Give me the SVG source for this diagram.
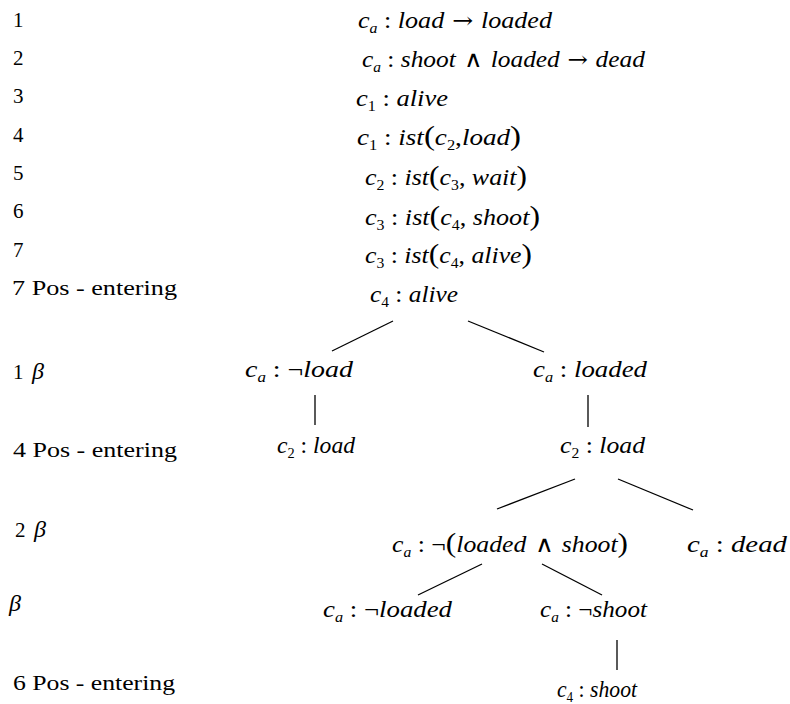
<svg xmlns="http://www.w3.org/2000/svg" width="790" height="704" viewBox="0 0 790 704">
<style>
.lab{font-family:'Liberation Serif','Times New Roman',serif;font-size:21px;fill:#000}
.m{font-family:'Liberation Serif','Times New Roman',serif;font-size:23px;font-style:italic;fill:#000}
.u{font-style:normal}
.sb{font-size:14px}
.sbu{font-size:14px;font-style:normal}
.par{font-size:28px;font-style:normal}
.op{font-family:'DejaVu Sans',sans-serif;font-size:23px;font-style:normal;font-weight:200}
.ar{font-family:'DejaVu Serif',serif;font-size:22px;font-style:normal}
.it{font-style:italic}
.beta{font-style:italic;font-size:24px}
.edge{stroke:#000;stroke-width:1.3;fill:none}
</style>
<rect width="790" height="704" fill="#fff"/>
<g id="labels">
<text class="lab" x="13" y="27">1</text>
<text class="lab" x="13" y="65">2</text>
<text class="lab" x="13" y="103">3</text>
<text class="lab" x="13" y="142">4</text>
<text class="lab" x="13" y="180">5</text>
<text class="lab" x="13" y="218">6</text>
<text class="lab" x="13" y="257">7</text>
<text class="lab" x="12" y="295" textLength="165" lengthAdjust="spacingAndGlyphs">7 Pos - entering</text>
<text class="lab" x="13" y="379">1<tspan class="beta" x="32">β</tspan></text>
<text class="lab" x="13" y="457" textLength="164" lengthAdjust="spacingAndGlyphs">4 Pos - entering</text>
<text class="lab" x="15" y="537">2<tspan class="beta" x="34">β</tspan></text>
<text class="lab beta" x="9" y="611">β</text>
<text class="lab" x="13" y="690" textLength="162" lengthAdjust="spacingAndGlyphs">6 Pos - entering</text>
</g>
<g id="premises">
<text id="p1" class="m" x="358" y="28" textLength="194" lengthAdjust="spacingAndGlyphs">c<tspan class="sb" dy="5">a</tspan><tspan class="u" dy="-5"> : </tspan>load<tspan class="ar"> → </tspan>loaded</text>
<text id="p2" class="m" x="362" y="67" textLength="283" lengthAdjust="spacingAndGlyphs">c<tspan class="sb" dy="5">a</tspan><tspan class="u" dy="-5"> : </tspan>shoot<tspan class="op"> ∧ </tspan>loaded<tspan class="ar"> → </tspan>dead</text>
<text id="p3" class="m" x="356" y="106" textLength="92" lengthAdjust="spacingAndGlyphs">c<tspan class="sbu" dy="5">1</tspan><tspan class="u" dy="-5"> : </tspan>alive</text>
<text id="p4" class="m" x="357" y="145" textLength="164" lengthAdjust="spacingAndGlyphs">c<tspan class="sbu" dy="5">1</tspan><tspan class="u" dy="-5"> : </tspan>ist<tspan class="par">(</tspan>c<tspan class="sbu" dy="5">2</tspan><tspan class="u" dy="-5">,</tspan>load<tspan class="par">)</tspan></text>
<text id="p5" class="m" x="365" y="185" textLength="162" lengthAdjust="spacingAndGlyphs">c<tspan class="sbu" dy="5">2</tspan><tspan class="u" dy="-5"> : </tspan>ist<tspan class="par">(</tspan>c<tspan class="sbu" dy="5">3</tspan><tspan class="u" dy="-5">, </tspan>wait<tspan class="par">)</tspan></text>
<text id="p6" class="m" x="365" y="225" textLength="175" lengthAdjust="spacingAndGlyphs">c<tspan class="sbu" dy="5">3</tspan><tspan class="u" dy="-5"> : </tspan>ist<tspan class="par">(</tspan>c<tspan class="sbu" dy="5">4</tspan><tspan class="u" dy="-5">, </tspan>shoot<tspan class="par">)</tspan></text>
<text id="p7" class="m" x="365" y="263" textLength="167" lengthAdjust="spacingAndGlyphs">c<tspan class="sbu" dy="5">3</tspan><tspan class="u" dy="-5"> : </tspan>ist<tspan class="par">(</tspan>c<tspan class="sbu" dy="5">4</tspan><tspan class="u" dy="-5">, </tspan>alive<tspan class="par">)</tspan></text>
</g>
<g id="connectors">
<line class="edge" x1="393" y1="321" x2="332" y2="351"/>
<line class="edge" x1="468" y1="321" x2="544" y2="352"/>
<line class="edge" x1="315" y1="395" x2="315" y2="425"/>
<line class="edge" x1="588" y1="395" x2="588" y2="427"/>
<line class="edge" x1="575" y1="479" x2="497" y2="509"/>
<line class="edge" x1="618" y1="479" x2="693" y2="510"/>
<line class="edge" x1="482" y1="564" x2="418" y2="595"/>
<line class="edge" x1="542" y1="564" x2="602" y2="595"/>
<line class="edge" x1="617" y1="640" x2="617" y2="670"/>
</g>
<g id="n-c4-alive"><text class="m" x="370" y="302" textLength="88" lengthAdjust="spacingAndGlyphs">c<tspan class="sbu" dy="5">4</tspan><tspan class="u" dy="-5"> : </tspan>alive</text></g>
<g id="n-not-load"><text class="m" x="245" y="377" textLength="108" lengthAdjust="spacingAndGlyphs">c<tspan class="sb" dy="5">a</tspan><tspan class="u" dy="-5"> : ¬</tspan>load</text></g>
<g id="n-loaded"><text class="m" x="533" y="377" textLength="114" lengthAdjust="spacingAndGlyphs">c<tspan class="sb" dy="5">a</tspan><tspan class="u" dy="-5"> : </tspan>loaded</text></g>
<g id="n-c2-load-left"><text class="m" x="277" y="453" textLength="78" lengthAdjust="spacingAndGlyphs">c<tspan class="sbu" dy="5">2</tspan><tspan class="u" dy="-5"> : </tspan>load</text></g>
<g id="n-c2-load-right"><text class="m" x="560" y="453" textLength="85" lengthAdjust="spacingAndGlyphs">c<tspan class="sbu" dy="5">2</tspan><tspan class="u" dy="-5"> : </tspan>load</text></g>
<g id="n-not-loaded-and-shoot"><text class="m" x="392" y="552" textLength="236" lengthAdjust="spacingAndGlyphs">c<tspan class="sb" dy="5">a</tspan><tspan class="u" dy="-5"> : ¬</tspan><tspan class="par">(</tspan>loaded<tspan class="op"> ∧ </tspan>shoot<tspan class="par">)</tspan></text></g>
<g id="n-dead"><text class="m" x="687" y="552" textLength="100" lengthAdjust="spacingAndGlyphs">c<tspan class="sb" dy="5">a</tspan><tspan class="u" dy="-5"> : </tspan>dead</text></g>
<g id="n-not-loaded"><text class="m" x="323" y="617" textLength="129" lengthAdjust="spacingAndGlyphs">c<tspan class="sb" dy="5">a</tspan><tspan class="u" dy="-5"> : ¬</tspan>loaded</text></g>
<g id="n-not-shoot"><text class="m" x="540" y="617" textLength="107" lengthAdjust="spacingAndGlyphs">c<tspan class="sb" dy="5">a</tspan><tspan class="u" dy="-5"> : ¬</tspan>shoot</text></g>
<g id="n-c4-shoot"><text class="m" x="557" y="697" textLength="80" lengthAdjust="spacingAndGlyphs">c<tspan class="sbu" dy="5">4</tspan><tspan class="u" dy="-5"> : </tspan>shoot</text></g>
</svg>
